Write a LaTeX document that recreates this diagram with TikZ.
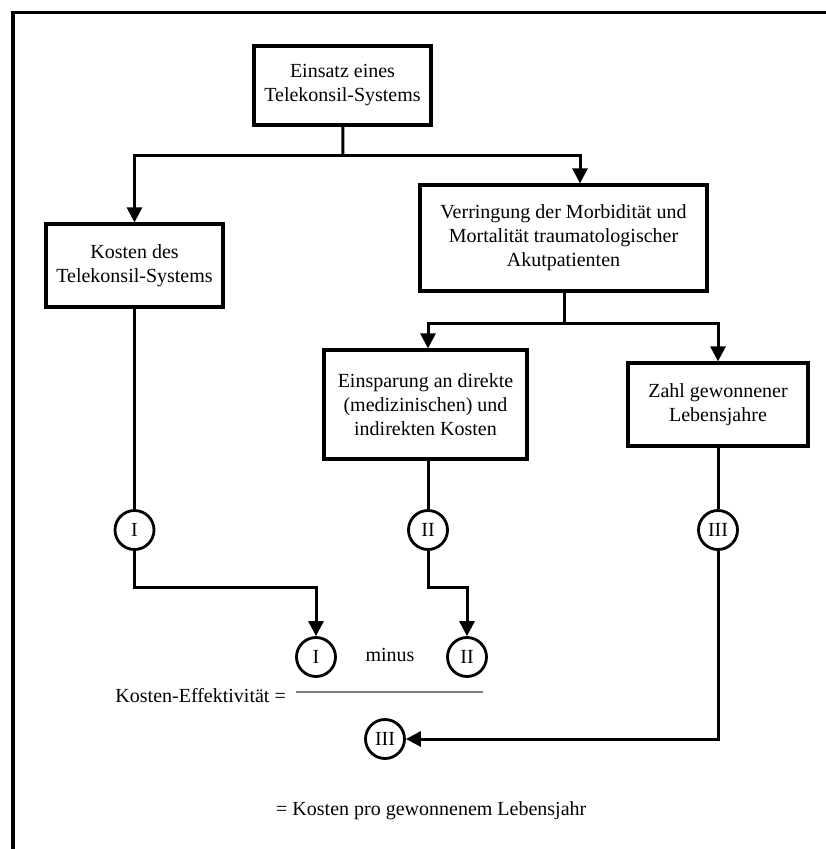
\documentclass[tikz,border=0pt]{standalone}
\usepackage{fontspec}
\setmainfont{Liberation Serif}
\usetikzlibrary{arrows.meta,calc}
\begin{document}
\begin{tikzpicture}[x=1pt,y=-1pt,
  font=\fontsize{20}{24}\selectfont,
  box/.style={draw,line width=3.2pt,align=center,inner sep=0pt},
  circ/.style={draw,circle,line width=2.8pt,minimum size=39pt,inner sep=0pt},
  conn/.style={line width=3pt},
  arr/.style={conn,-{Triangle[length=15pt,width=15pt]}},
  frame/.style={line width=3.8pt}]
\useasboundingbox (0,0) rectangle (826,849);
\draw[frame] (13,849) -- (13,12.5) -- (826,12.5);

\node[box,minimum width=177pt,minimum height=79pt] (A) at (342.5,85.5) {Einsatz eines\\Telekonsil-Systems};
\node[box,minimum width=177pt,minimum height=83pt] (K) at (134.5,265.5) {Kosten des\\Telekonsil-Systems};
\node[box,minimum width=287pt,minimum height=106pt] (B) at (563.5,238) {Verringung der Morbidität und\\Mortalität traumatologischer\\Akutpatienten};
\node[box,minimum width=203pt,minimum height=109pt] (C) at (425.5,404.5) {Einsparung an direkte\\(medizinischen) und\\indirekten Kosten};
\node[box,minimum width=180pt,minimum height=83pt] (D) at (718,404.5) {Zahl gewonnener\\Lebensjahre};

\node[circ] (c1) at (134.5,530) {I};
\node[circ] (c2) at (428,530) {II};
\node[circ] (c3) at (718,530) {III};
\node[circ] (c1b) at (316,657) {I};
\node[circ] (c2b) at (467,657) {II};
\node[circ] (c3b) at (385,739) {III};

\coordinate (j1) at (343,155);
\coordinate (j2) at (564,323);
\coordinate (t1) at (316,587);
\coordinate (t2) at (467,587);
\coordinate (t3) at (718,739);

\draw[conn] (A) -- (j1);
\draw[arr] (j1) -| (K.north);
\draw[arr] (j1) -| ([xshift=16.5pt]B.north);
\draw[conn] (B.south -| j2) -- (j2);
\draw[arr] (j2) -| ([xshift=2.5pt]C.north);
\draw[arr] (j2) -| (D.north);

\draw[conn] (K) -- (c1);
\draw[arr] (c1) |- (t1) -- (c1b);
\draw[conn] (C.south -| c2) -- (c2);
\draw[arr] (c2) |- (t2) -- (c2b);
\draw[conn] (D) -- (c3);
\draw[arr] (c3) -- (t3) -- (c3b);

\node[anchor=base] (minus) at (390,661) {minus};
\node[anchor=base east,inner sep=0pt] (ke) at (286,702) {Kosten-Effektivität =};
\draw[gray,line width=1.2pt] (296,692) -- (483,692);
\node[anchor=base west,inner sep=0pt] (res) at (276,815) {= Kosten pro gewonnenem Lebensjahr};
\end{tikzpicture}
\end{document}
